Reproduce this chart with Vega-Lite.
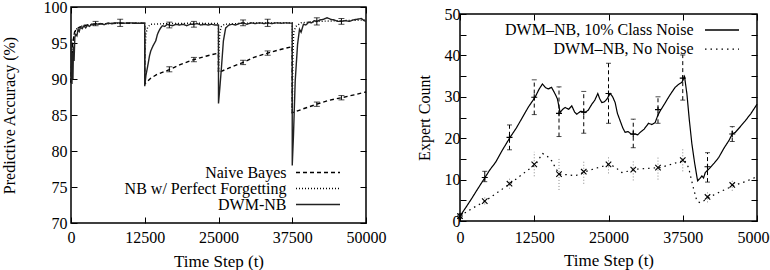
{
  "$schema": "https://vega.github.io/schema/vega-lite/v6.json",
  "background": "white",
  "padding": {"left": 0, "top": -2, "right": 0, "bottom": 0},
  "spacing": 28,
  "resolve": {"scale": {"color": "independent", "strokeDash": "independent"}, "legend": {"color": "independent", "strokeDash": "independent"}},
  "config": {
    "font": "Liberation Serif",
    "view": {"stroke": "black", "strokeWidth": 1.5},
    "axis": {
      "labelFont": "Liberation Serif", "labelFontSize": 16, "labelColor": "black",
      "titleFont": "Liberation Serif", "titleFontWeight": "normal", "titleColor": "black",
      "domain": false, "grid": false, "tickColor": "black", "tickSize": -6, "tickWidth": 1,
      "labelFlush": false, "labelOverlap": false, "format": "d"
    }
  },
  "datasets": {
    "acc": [
      {"s": "Naive Bayes", "t": 0, "v": 89.5}, {"s": "Naive Bayes", "t": 150, "v": 93}, {"s": "Naive Bayes", "t": 300, "v": 95}, {"s": "Naive Bayes", "t": 600, "v": 96.5}, {"s": "Naive Bayes", "t": 1000, "v": 97}, {"s": "Naive Bayes", "t": 2000, "v": 97.4}, {"s": "Naive Bayes", "t": 4167, "v": 97.65}, {"s": "Naive Bayes", "t": 8333, "v": 97.75}, {"s": "Naive Bayes", "t": 12490, "v": 97.75},
      {"s": "Naive Bayes", "t": 12500, "v": 89.3}, {"s": "Naive Bayes", "t": 13500, "v": 90.1}, {"s": "Naive Bayes", "t": 14500, "v": 90.6}, {"s": "Naive Bayes", "t": 16667, "v": 91.3}, {"s": "Naive Bayes", "t": 18500, "v": 92.0}, {"s": "Naive Bayes", "t": 20833, "v": 92.7}, {"s": "Naive Bayes", "t": 23000, "v": 93.2}, {"s": "Naive Bayes", "t": 24990, "v": 93.6},
      {"s": "Naive Bayes", "t": 25000, "v": 90.9}, {"s": "Naive Bayes", "t": 27000, "v": 91.6}, {"s": "Naive Bayes", "t": 29167, "v": 92.3}, {"s": "Naive Bayes", "t": 31000, "v": 93.0}, {"s": "Naive Bayes", "t": 33333, "v": 93.6}, {"s": "Naive Bayes", "t": 35500, "v": 94.1}, {"s": "Naive Bayes", "t": 37490, "v": 94.5},
      {"s": "Naive Bayes", "t": 37500, "v": 85.3}, {"s": "Naive Bayes", "t": 39500, "v": 85.9}, {"s": "Naive Bayes", "t": 41667, "v": 86.5}, {"s": "Naive Bayes", "t": 43500, "v": 87.0}, {"s": "Naive Bayes", "t": 45833, "v": 87.4}, {"s": "Naive Bayes", "t": 48000, "v": 87.8}, {"s": "Naive Bayes", "t": 50000, "v": 88.2},

      {"s": "NB w/ Perfect Forgetting", "t": 0, "v": 89.5}, {"s": "NB w/ Perfect Forgetting", "t": 150, "v": 93}, {"s": "NB w/ Perfect Forgetting", "t": 300, "v": 95}, {"s": "NB w/ Perfect Forgetting", "t": 600, "v": 96.5}, {"s": "NB w/ Perfect Forgetting", "t": 1000, "v": 97}, {"s": "NB w/ Perfect Forgetting", "t": 2000, "v": 97.4}, {"s": "NB w/ Perfect Forgetting", "t": 4167, "v": 97.65}, {"s": "NB w/ Perfect Forgetting", "t": 8333, "v": 97.75}, {"s": "NB w/ Perfect Forgetting", "t": 12490, "v": 97.75},
      {"s": "NB w/ Perfect Forgetting", "t": 12500, "v": 89.3}, {"s": "NB w/ Perfect Forgetting", "t": 12600, "v": 94.5}, {"s": "NB w/ Perfect Forgetting", "t": 12700, "v": 96.3}, {"s": "NB w/ Perfect Forgetting", "t": 13000, "v": 97.2}, {"s": "NB w/ Perfect Forgetting", "t": 13500, "v": 97.6}, {"s": "NB w/ Perfect Forgetting", "t": 16667, "v": 97.7}, {"s": "NB w/ Perfect Forgetting", "t": 20833, "v": 97.75}, {"s": "NB w/ Perfect Forgetting", "t": 24990, "v": 97.7},
      {"s": "NB w/ Perfect Forgetting", "t": 25000, "v": 90.9}, {"s": "NB w/ Perfect Forgetting", "t": 25100, "v": 95}, {"s": "NB w/ Perfect Forgetting", "t": 25250, "v": 96.6}, {"s": "NB w/ Perfect Forgetting", "t": 25500, "v": 97.3}, {"s": "NB w/ Perfect Forgetting", "t": 26000, "v": 97.6}, {"s": "NB w/ Perfect Forgetting", "t": 29167, "v": 97.75}, {"s": "NB w/ Perfect Forgetting", "t": 33333, "v": 97.8}, {"s": "NB w/ Perfect Forgetting", "t": 37490, "v": 97.8},
      {"s": "NB w/ Perfect Forgetting", "t": 37500, "v": 85.3}, {"s": "NB w/ Perfect Forgetting", "t": 37600, "v": 93}, {"s": "NB w/ Perfect Forgetting", "t": 37750, "v": 96.5}, {"s": "NB w/ Perfect Forgetting", "t": 38100, "v": 97.3}, {"s": "NB w/ Perfect Forgetting", "t": 39000, "v": 97.8}, {"s": "NB w/ Perfect Forgetting", "t": 41667, "v": 98.0}, {"s": "NB w/ Perfect Forgetting", "t": 45833, "v": 98.1}, {"s": "NB w/ Perfect Forgetting", "t": 50000, "v": 98.2},

      {"s": "DWM-NB", "t": 0, "v": 95.5}, {"s": "DWM-NB", "t": 80, "v": 91}, {"s": "DWM-NB", "t": 160, "v": 89.3}, {"s": "DWM-NB", "t": 250, "v": 93.5}, {"s": "DWM-NB", "t": 330, "v": 90}, {"s": "DWM-NB", "t": 420, "v": 94.5}, {"s": "DWM-NB", "t": 520, "v": 92.5}, {"s": "DWM-NB", "t": 650, "v": 95.8}, {"s": "DWM-NB", "t": 800, "v": 96.2}, {"s": "DWM-NB", "t": 1000, "v": 96.0}, {"s": "DWM-NB", "t": 1200, "v": 96.9}, {"s": "DWM-NB", "t": 1400, "v": 96.6}, {"s": "DWM-NB", "t": 1600, "v": 97.2}, {"s": "DWM-NB", "t": 1900, "v": 97.0}, {"s": "DWM-NB", "t": 2200, "v": 97.4}, {"s": "DWM-NB", "t": 2500, "v": 97.1}, {"s": "DWM-NB", "t": 2800, "v": 97.5}, {"s": "DWM-NB", "t": 3100, "v": 97.3}, {"s": "DWM-NB", "t": 3500, "v": 97.6}, {"s": "DWM-NB", "t": 3800, "v": 97.5}, {"s": "DWM-NB", "t": 4167, "v": 97.7}, {"s": "DWM-NB", "t": 4600, "v": 97.6}, {"s": "DWM-NB", "t": 5000, "v": 97.7}, {"s": "DWM-NB", "t": 5600, "v": 97.55}, {"s": "DWM-NB", "t": 6200, "v": 97.75}, {"s": "DWM-NB", "t": 7000, "v": 97.7}, {"s": "DWM-NB", "t": 7600, "v": 97.8}, {"s": "DWM-NB", "t": 8333, "v": 97.8}, {"s": "DWM-NB", "t": 9000, "v": 97.75}, {"s": "DWM-NB", "t": 10000, "v": 97.8}, {"s": "DWM-NB", "t": 11000, "v": 97.75}, {"s": "DWM-NB", "t": 12490, "v": 97.75},
      {"s": "DWM-NB", "t": 12500, "v": 89.0}, {"s": "DWM-NB", "t": 12700, "v": 90.5}, {"s": "DWM-NB", "t": 12960, "v": 91.6}, {"s": "DWM-NB", "t": 13300, "v": 93.2}, {"s": "DWM-NB", "t": 13520, "v": 93.9}, {"s": "DWM-NB", "t": 13900, "v": 94.6}, {"s": "DWM-NB", "t": 14365, "v": 95.3}, {"s": "DWM-NB", "t": 14650, "v": 96.2}, {"s": "DWM-NB", "t": 14920, "v": 96.7}, {"s": "DWM-NB", "t": 15200, "v": 97.1}, {"s": "DWM-NB", "t": 15490, "v": 97.4}, {"s": "DWM-NB", "t": 15900, "v": 97.3}, {"s": "DWM-NB", "t": 16300, "v": 97.6}, {"s": "DWM-NB", "t": 16667, "v": 97.5}, {"s": "DWM-NB", "t": 17200, "v": 97.4}, {"s": "DWM-NB", "t": 17800, "v": 97.6}, {"s": "DWM-NB", "t": 18400, "v": 97.5}, {"s": "DWM-NB", "t": 19000, "v": 97.6}, {"s": "DWM-NB", "t": 19600, "v": 97.4}, {"s": "DWM-NB", "t": 20200, "v": 97.6}, {"s": "DWM-NB", "t": 20833, "v": 97.6}, {"s": "DWM-NB", "t": 21400, "v": 97.7}, {"s": "DWM-NB", "t": 22000, "v": 97.5}, {"s": "DWM-NB", "t": 22600, "v": 97.6}, {"s": "DWM-NB", "t": 23200, "v": 97.5}, {"s": "DWM-NB", "t": 23800, "v": 97.6}, {"s": "DWM-NB", "t": 24400, "v": 97.5}, {"s": "DWM-NB", "t": 24990, "v": 97.5},
      {"s": "DWM-NB", "t": 25000, "v": 86.6}, {"s": "DWM-NB", "t": 25200, "v": 88.5}, {"s": "DWM-NB", "t": 25500, "v": 91.6}, {"s": "DWM-NB", "t": 25830, "v": 95.3}, {"s": "DWM-NB", "t": 26220, "v": 97.1}, {"s": "DWM-NB", "t": 26780, "v": 97.5}, {"s": "DWM-NB", "t": 27300, "v": 97.6}, {"s": "DWM-NB", "t": 27900, "v": 97.5}, {"s": "DWM-NB", "t": 28500, "v": 97.7}, {"s": "DWM-NB", "t": 29167, "v": 97.8}, {"s": "DWM-NB", "t": 29800, "v": 97.6}, {"s": "DWM-NB", "t": 30500, "v": 97.8}, {"s": "DWM-NB", "t": 31200, "v": 97.7}, {"s": "DWM-NB", "t": 32000, "v": 97.8}, {"s": "DWM-NB", "t": 32700, "v": 97.7}, {"s": "DWM-NB", "t": 33333, "v": 97.8}, {"s": "DWM-NB", "t": 34000, "v": 97.7}, {"s": "DWM-NB", "t": 34800, "v": 97.8}, {"s": "DWM-NB", "t": 35600, "v": 97.75}, {"s": "DWM-NB", "t": 36400, "v": 97.8}, {"s": "DWM-NB", "t": 37490, "v": 97.75},
      {"s": "DWM-NB", "t": 37500, "v": 78.0}, {"s": "DWM-NB", "t": 37700, "v": 82}, {"s": "DWM-NB", "t": 38000, "v": 89.7}, {"s": "DWM-NB", "t": 38400, "v": 94.8}, {"s": "DWM-NB", "t": 38730, "v": 96.9}, {"s": "DWM-NB", "t": 39000, "v": 96.5}, {"s": "DWM-NB", "t": 39400, "v": 97.6}, {"s": "DWM-NB", "t": 39800, "v": 97.5}, {"s": "DWM-NB", "t": 40300, "v": 97.9}, {"s": "DWM-NB", "t": 40800, "v": 97.8}, {"s": "DWM-NB", "t": 41200, "v": 98.1}, {"s": "DWM-NB", "t": 41667, "v": 98.0}, {"s": "DWM-NB", "t": 42200, "v": 98.2}, {"s": "DWM-NB", "t": 42800, "v": 98.3}, {"s": "DWM-NB", "t": 43400, "v": 98.5}, {"s": "DWM-NB", "t": 44000, "v": 98.3}, {"s": "DWM-NB", "t": 44600, "v": 98.2}, {"s": "DWM-NB", "t": 45200, "v": 98.0}, {"s": "DWM-NB", "t": 45833, "v": 98.0}, {"s": "DWM-NB", "t": 46500, "v": 98.1}, {"s": "DWM-NB", "t": 47200, "v": 98.0}, {"s": "DWM-NB", "t": 47800, "v": 98.2}, {"s": "DWM-NB", "t": 48500, "v": 98.3}, {"s": "DWM-NB", "t": 49200, "v": 98.4}, {"s": "DWM-NB", "t": 49700, "v": 98.1}, {"s": "DWM-NB", "t": 50000, "v": 98.0}
    ],
    "accbars": [
      {"s": "DWM-NB", "t": 4167, "v": 97.7, "lo": 97.4, "hi": 98.0},
      {"s": "DWM-NB", "t": 8333, "v": 97.8, "lo": 97.3, "hi": 98.3},
      {"s": "DWM-NB", "t": 16667, "v": 97.5, "lo": 97.1, "hi": 97.9},
      {"s": "DWM-NB", "t": 20833, "v": 97.6, "lo": 97.2, "hi": 98.0},
      {"s": "DWM-NB", "t": 29167, "v": 97.8, "lo": 97.4, "hi": 98.2},
      {"s": "DWM-NB", "t": 33333, "v": 97.8, "lo": 97.3, "hi": 98.3},
      {"s": "DWM-NB", "t": 41667, "v": 98.0, "lo": 97.5, "hi": 98.5},
      {"s": "DWM-NB", "t": 45833, "v": 98.0, "lo": 97.6, "hi": 98.4},
      {"s": "Naive Bayes", "t": 16667, "v": 91.3, "lo": 91.0, "hi": 91.7},
      {"s": "Naive Bayes", "t": 20833, "v": 92.7, "lo": 92.4, "hi": 93.0},
      {"s": "Naive Bayes", "t": 29167, "v": 92.3, "lo": 92.0, "hi": 92.6},
      {"s": "Naive Bayes", "t": 33333, "v": 93.6, "lo": 93.3, "hi": 93.9},
      {"s": "Naive Bayes", "t": 41667, "v": 86.5, "lo": 86.2, "hi": 86.8},
      {"s": "Naive Bayes", "t": 45833, "v": 87.4, "lo": 87.1, "hi": 87.7}
    ],
    "exp": [
      {"s": "DWM–NB, 10% Class Noise", "t": 0, "v": 1.2}, {"s": "DWM–NB, 10% Class Noise", "t": 1000, "v": 3.3}, {"s": "DWM–NB, 10% Class Noise", "t": 2000, "v": 5.5}, {"s": "DWM–NB, 10% Class Noise", "t": 3000, "v": 7.8}, {"s": "DWM–NB, 10% Class Noise", "t": 4210, "v": 10.5}, {"s": "DWM–NB, 10% Class Noise", "t": 5000, "v": 12.3}, {"s": "DWM–NB, 10% Class Noise", "t": 6000, "v": 14.2}, {"s": "DWM–NB, 10% Class Noise", "t": 7000, "v": 16.8}, {"s": "DWM–NB, 10% Class Noise", "t": 8425, "v": 20.2}, {"s": "DWM–NB, 10% Class Noise", "t": 9500, "v": 22.5}, {"s": "DWM–NB, 10% Class Noise", "t": 10500, "v": 25}, {"s": "DWM–NB, 10% Class Noise", "t": 11500, "v": 27.5}, {"s": "DWM–NB, 10% Class Noise", "t": 12640, "v": 29.9}, {"s": "DWM–NB, 10% Class Noise", "t": 13300, "v": 31.8}, {"s": "DWM–NB, 10% Class Noise", "t": 13880, "v": 33.1}, {"s": "DWM–NB, 10% Class Noise", "t": 14400, "v": 32.2}, {"s": "DWM–NB, 10% Class Noise", "t": 14890, "v": 31.9}, {"s": "DWM–NB, 10% Class Noise", "t": 15400, "v": 32.3}, {"s": "DWM–NB, 10% Class Noise", "t": 16010, "v": 30.7}, {"s": "DWM–NB, 10% Class Noise", "t": 16400, "v": 29.5}, {"s": "DWM–NB, 10% Class Noise", "t": 16850, "v": 26.2}, {"s": "DWM–NB, 10% Class Noise", "t": 17300, "v": 27.0}, {"s": "DWM–NB, 10% Class Noise", "t": 17700, "v": 27.4}, {"s": "DWM–NB, 10% Class Noise", "t": 18300, "v": 27.0}, {"s": "DWM–NB, 10% Class Noise", "t": 18820, "v": 27.8}, {"s": "DWM–NB, 10% Class Noise", "t": 19300, "v": 26.3}, {"s": "DWM–NB, 10% Class Noise", "t": 19660, "v": 25.8}, {"s": "DWM–NB, 10% Class Noise", "t": 20300, "v": 26.5}, {"s": "DWM–NB, 10% Class Noise", "t": 21060, "v": 26.2}, {"s": "DWM–NB, 10% Class Noise", "t": 21600, "v": 26.8}, {"s": "DWM–NB, 10% Class Noise", "t": 22190, "v": 28.2}, {"s": "DWM–NB, 10% Class Noise", "t": 22700, "v": 29.2}, {"s": "DWM–NB, 10% Class Noise", "t": 23200, "v": 30.8}, {"s": "DWM–NB, 10% Class Noise", "t": 23500, "v": 29.6}, {"s": "DWM–NB, 10% Class Noise", "t": 23870, "v": 28.6}, {"s": "DWM–NB, 10% Class Noise", "t": 24300, "v": 28.8}, {"s": "DWM–NB, 10% Class Noise", "t": 24710, "v": 29.4}, {"s": "DWM–NB, 10% Class Noise", "t": 25280, "v": 30.8}, {"s": "DWM–NB, 10% Class Noise", "t": 25700, "v": 30.0}, {"s": "DWM–NB, 10% Class Noise", "t": 26120, "v": 28.6}, {"s": "DWM–NB, 10% Class Noise", "t": 26500, "v": 26.0}, {"s": "DWM–NB, 10% Class Noise", "t": 26960, "v": 24.2}, {"s": "DWM–NB, 10% Class Noise", "t": 27400, "v": 22.5}, {"s": "DWM–NB, 10% Class Noise", "t": 27800, "v": 21.4}, {"s": "DWM–NB, 10% Class Noise", "t": 28300, "v": 21.6}, {"s": "DWM–NB, 10% Class Noise", "t": 28800, "v": 21.0}, {"s": "DWM–NB, 10% Class Noise", "t": 29490, "v": 21.0}, {"s": "DWM–NB, 10% Class Noise", "t": 29900, "v": 20.8}, {"s": "DWM–NB, 10% Class Noise", "t": 30330, "v": 21.4}, {"s": "DWM–NB, 10% Class Noise", "t": 31000, "v": 22.2}, {"s": "DWM–NB, 10% Class Noise", "t": 31740, "v": 23.6}, {"s": "DWM–NB, 10% Class Noise", "t": 32300, "v": 23.3}, {"s": "DWM–NB, 10% Class Noise", "t": 32860, "v": 23.8}, {"s": "DWM–NB, 10% Class Noise", "t": 33300, "v": 25.5}, {"s": "DWM–NB, 10% Class Noise", "t": 33700, "v": 26.6}, {"s": "DWM–NB, 10% Class Noise", "t": 34400, "v": 28.2}, {"s": "DWM–NB, 10% Class Noise", "t": 35110, "v": 29.9}, {"s": "DWM–NB, 10% Class Noise", "t": 35700, "v": 31.2}, {"s": "DWM–NB, 10% Class Noise", "t": 36230, "v": 32.3}, {"s": "DWM–NB, 10% Class Noise", "t": 36800, "v": 33.0}, {"s": "DWM–NB, 10% Class Noise", "t": 37350, "v": 33.5}, {"s": "DWM–NB, 10% Class Noise", "t": 37800, "v": 34.9}, {"s": "DWM–NB, 10% Class Noise", "t": 38200, "v": 30.7}, {"s": "DWM–NB, 10% Class Noise", "t": 38600, "v": 24.5}, {"s": "DWM–NB, 10% Class Noise", "t": 39040, "v": 18.6}, {"s": "DWM–NB, 10% Class Noise", "t": 39500, "v": 14}, {"s": "DWM–NB, 10% Class Noise", "t": 40000, "v": 9.7}, {"s": "DWM–NB, 10% Class Noise", "t": 40400, "v": 10.3}, {"s": "DWM–NB, 10% Class Noise", "t": 40730, "v": 10.9}, {"s": "DWM–NB, 10% Class Noise", "t": 41000, "v": 10.4}, {"s": "DWM–NB, 10% Class Noise", "t": 41290, "v": 11.7}, {"s": "DWM–NB, 10% Class Noise", "t": 42130, "v": 12.9}, {"s": "DWM–NB, 10% Class Noise", "t": 42800, "v": 14.0}, {"s": "DWM–NB, 10% Class Noise", "t": 43540, "v": 15.3}, {"s": "DWM–NB, 10% Class Noise", "t": 44400, "v": 17.5}, {"s": "DWM–NB, 10% Class Noise", "t": 45300, "v": 19.5}, {"s": "DWM–NB, 10% Class Noise", "t": 45833, "v": 21.0}, {"s": "DWM–NB, 10% Class Noise", "t": 46340, "v": 21.4}, {"s": "DWM–NB, 10% Class Noise", "t": 47200, "v": 22.8}, {"s": "DWM–NB, 10% Class Noise", "t": 48020, "v": 24.2}, {"s": "DWM–NB, 10% Class Noise", "t": 49000, "v": 26.0}, {"s": "DWM–NB, 10% Class Noise", "t": 49820, "v": 27.8}, {"s": "DWM–NB, 10% Class Noise", "t": 50000, "v": 28.2},
      {"s": "DWM–NB, No Noise", "t": 0, "v": 1.2}, {"s": "DWM–NB, No Noise", "t": 2000, "v": 3.0}, {"s": "DWM–NB, No Noise", "t": 4210, "v": 4.8}, {"s": "DWM–NB, No Noise", "t": 6300, "v": 6.9}, {"s": "DWM–NB, No Noise", "t": 8425, "v": 9.0}, {"s": "DWM–NB, No Noise", "t": 10500, "v": 11.3}, {"s": "DWM–NB, No Noise", "t": 12750, "v": 13.7}, {"s": "DWM–NB, No Noise", "t": 13880, "v": 16.3}, {"s": "DWM–NB, No Noise", "t": 14600, "v": 15.8}, {"s": "DWM–NB, No Noise", "t": 15450, "v": 14.5}, {"s": "DWM–NB, No Noise", "t": 16200, "v": 12.5}, {"s": "DWM–NB, No Noise", "t": 16850, "v": 11.3}, {"s": "DWM–NB, No Noise", "t": 18000, "v": 11.2}, {"s": "DWM–NB, No Noise", "t": 19380, "v": 10.9}, {"s": "DWM–NB, No Noise", "t": 21060, "v": 11.9}, {"s": "DWM–NB, No Noise", "t": 23000, "v": 12.8}, {"s": "DWM–NB, No Noise", "t": 25280, "v": 13.7}, {"s": "DWM–NB, No Noise", "t": 26300, "v": 12.8}, {"s": "DWM–NB, No Noise", "t": 27250, "v": 11.7}, {"s": "DWM–NB, No Noise", "t": 28500, "v": 12.1}, {"s": "DWM–NB, No Noise", "t": 29490, "v": 12.5}, {"s": "DWM–NB, No Noise", "t": 31500, "v": 12.7}, {"s": "DWM–NB, No Noise", "t": 33700, "v": 12.9}, {"s": "DWM–NB, No Noise", "t": 35800, "v": 13.8}, {"s": "DWM–NB, No Noise", "t": 37800, "v": 14.7}, {"s": "DWM–NB, No Noise", "t": 38480, "v": 12.9}, {"s": "DWM–NB, No Noise", "t": 39200, "v": 8.5}, {"s": "DWM–NB, No Noise", "t": 39880, "v": 4.8}, {"s": "DWM–NB, No Noise", "t": 40440, "v": 4.4}, {"s": "DWM–NB, No Noise", "t": 41200, "v": 5.0}, {"s": "DWM–NB, No Noise", "t": 42020, "v": 5.8}, {"s": "DWM–NB, No Noise", "t": 44000, "v": 7.2}, {"s": "DWM–NB, No Noise", "t": 46340, "v": 8.7}, {"s": "DWM–NB, No Noise", "t": 48200, "v": 9.6}, {"s": "DWM–NB, No Noise", "t": 50000, "v": 10.7}
    ],
    "expbars": [
      {"s": "DWM–NB, 10% Class Noise", "t": 0, "v": 1.2, "lo": 0.7, "hi": 1.7},
      {"s": "DWM–NB, 10% Class Noise", "t": 4167, "v": 10.5, "lo": 9.5, "hi": 12.0},
      {"s": "DWM–NB, 10% Class Noise", "t": 8333, "v": 20.2, "lo": 17.2, "hi": 23.2},
      {"s": "DWM–NB, 10% Class Noise", "t": 12500, "v": 29.9, "lo": 25.7, "hi": 34.1},
      {"s": "DWM–NB, 10% Class Noise", "t": 16667, "v": 26.0, "lo": 20.4, "hi": 32.4},
      {"s": "DWM–NB, 10% Class Noise", "t": 20833, "v": 26.3, "lo": 21.2, "hi": 31.3},
      {"s": "DWM–NB, 10% Class Noise", "t": 25000, "v": 30.8, "lo": 23.6, "hi": 38.1},
      {"s": "DWM–NB, 10% Class Noise", "t": 29167, "v": 21.0, "lo": 17.7, "hi": 24.6},
      {"s": "DWM–NB, 10% Class Noise", "t": 33333, "v": 26.9, "lo": 23.6, "hi": 30.0},
      {"s": "DWM–NB, 10% Class Noise", "t": 37500, "v": 34.5, "lo": 29.2, "hi": 40.1},
      {"s": "DWM–NB, 10% Class Noise", "t": 41667, "v": 13.1, "lo": 9.4, "hi": 16.5},
      {"s": "DWM–NB, 10% Class Noise", "t": 45833, "v": 21.0, "lo": 19.2, "hi": 22.8},
      {"s": "DWM–NB, No Noise", "t": 0, "v": 1.2, "lo": 0.8, "hi": 1.6},
      {"s": "DWM–NB, No Noise", "t": 4167, "v": 4.8, "lo": 4.0, "hi": 5.8},
      {"s": "DWM–NB, No Noise", "t": 8333, "v": 9.0, "lo": 7.8, "hi": 10.6},
      {"s": "DWM–NB, No Noise", "t": 12500, "v": 13.7, "lo": 10.8, "hi": 16.7},
      {"s": "DWM–NB, No Noise", "t": 16667, "v": 11.3, "lo": 7.5, "hi": 15.0},
      {"s": "DWM–NB, No Noise", "t": 20833, "v": 11.9, "lo": 9.0, "hi": 14.5},
      {"s": "DWM–NB, No Noise", "t": 25000, "v": 13.7, "lo": 11.5, "hi": 15.5},
      {"s": "DWM–NB, No Noise", "t": 29167, "v": 12.4, "lo": 9.8, "hi": 14.8},
      {"s": "DWM–NB, No Noise", "t": 33333, "v": 12.9, "lo": 10.0, "hi": 15.5},
      {"s": "DWM–NB, No Noise", "t": 37500, "v": 14.7, "lo": 12.0, "hi": 17.7},
      {"s": "DWM–NB, No Noise", "t": 41667, "v": 5.8, "lo": 4.5, "hi": 7.3},
      {"s": "DWM–NB, No Noise", "t": 45833, "v": 8.7, "lo": 7.3, "hi": 10.2}
    ]
  },
  "hconcat": [
    {
      "width": 295, "height": 216,
      "resolve": {"axis": {"x": "independent", "y": "independent"}},
      "layer": [
        {
          "data": {"name": "acc"},
          "mark": {"type": "line", "strokeWidth": 1.4, "interpolate": "linear"},
          "encoding": {
            "x": {"field": "t", "type": "quantitative", "scale": {"domain": [0, 50000], "nice": false, "zero": false},
                  "axis": {"values": [0, 12500, 25000, 37500, 50000], "title": "Time Step (t)", "titleFontSize": 17, "labelPadding": 12, "titlePadding": 8.5}},
            "y": {"field": "v", "type": "quantitative", "scale": {"domain": [70, 100], "nice": false, "zero": false},
                  "axis": {"values": [70, 75, 80, 85, 90, 95, 100], "title": "Predictive Accuracy (%)", "titleFontSize": 16, "labelPadding": 10, "titlePadding": 26}},
            "color": {"field": "s", "type": "nominal", "title": null,
                      "scale": {"domain": ["Naive Bayes", "NB w/ Perfect Forgetting", "DWM-NB"], "range": ["black", "black", "#222222"]},
                      "legend": {"orient": "none", "legendX": 24, "legendY": 157.5, "title": null, "symbolType": "stroke", "symbolSize": 1936, "symbolStrokeWidth": 1.5, "labelAlign": "right", "labelFontSize": 16, "labelFont": "Liberation Serif", "labelColor": "black", "symbolOffset": 200, "labelOffset": -54.5, "clipHeight": 16, "rowPadding": -2.5, "padding": 0, "labelLimit": 400,
                                 "encode": {"entries": {"update": {"width": {"value": 260}}}}}},
            "strokeDash": {"field": "s", "type": "nominal", "title": null,
                      "scale": {"domain": ["Naive Bayes", "NB w/ Perfect Forgetting", "DWM-NB"], "range": [[4, 3], [1, 2], [1, 0]]},
                      "legend": {"orient": "none", "legendX": 24, "legendY": 157.5, "title": null, "symbolType": "stroke", "symbolSize": 1936, "symbolStrokeWidth": 1.5, "labelAlign": "right", "labelFontSize": 16, "labelFont": "Liberation Serif", "labelColor": "black", "symbolOffset": 200, "labelOffset": -54.5, "clipHeight": 16, "rowPadding": -2.5, "padding": 0, "labelLimit": 400,
                                 "encode": {"entries": {"update": {"width": {"value": 260}}}}}}
          }
        },
        {
          "data": {"name": "accbars"},
          "mark": {"type": "rule", "color": "black", "strokeWidth": 1},
          "encoding": {
            "x": {"field": "t", "type": "quantitative", "axis": null},
            "y": {"field": "lo", "type": "quantitative", "axis": null},
            "y2": {"field": "hi"}
          }
        },
        {
          "data": {"name": "accbars"},
          "mark": {"type": "tick", "orient": "horizontal", "color": "black", "size": 6, "thickness": 1},
          "encoding": {
            "x": {"field": "t", "type": "quantitative", "axis": null},
            "y": {"field": "lo", "type": "quantitative", "axis": null}
          }
        },
        {
          "data": {"name": "accbars"},
          "mark": {"type": "tick", "orient": "horizontal", "color": "black", "size": 6, "thickness": 1},
          "encoding": {
            "x": {"field": "t", "type": "quantitative", "axis": null},
            "y": {"field": "hi", "type": "quantitative", "axis": null}
          }
        },
        {
          "data": {"name": "accbars"},
          "mark": {"type": "point", "opacity": 0},
          "encoding": {
            "x": {"field": "t", "type": "quantitative", "axis": {"orient": "top", "labels": false, "title": null, "values": [0, 12500, 25000, 37500, 50000]}},
            "y": {"field": "v", "type": "quantitative", "axis": {"orient": "right", "labels": false, "title": null, "values": [70, 75, 80, 85, 90, 95, 100]}}
          }
        }
      ]
    },
    {
      "spacing": -3,
      "resolve": {"scale": {"color": "independent", "strokeDash": "independent"}, "legend": {"color": "independent", "strokeDash": "independent"}},
      "vconcat": [
        {
          "width": 297, "height": 1,
          "view": {"stroke": null},
          "data": {"values": []},
          "mark": {"type": "point", "opacity": 0}
        },
        {
          "width": 297, "height": 207,
          "resolve": {"axis": {"x": "independent", "y": "independent"}},
          "layer": [
            {
              "data": {"name": "expbars"},
              "transform": [{"filter": "datum.s === 'DWM–NB, No Noise'"}],
              "mark": {"type": "rule", "color": "#888888", "strokeWidth": 1, "strokeDash": [1, 2]},
              "encoding": {
                "x": {"field": "t", "type": "quantitative", "axis": null, "scale": {"domain": [0, 50000], "nice": false, "zero": false}},
                "y": {"field": "lo", "type": "quantitative", "axis": null, "scale": {"domain": [0, 50], "nice": false}},
                "y2": {"field": "hi"}
              }
            },
            {
              "data": {"name": "expbars"},
              "transform": [{"filter": "datum.s === 'DWM–NB, 10% Class Noise'"}],
              "mark": {"type": "rule", "color": "black", "strokeWidth": 1, "strokeDash": [4, 3]},
              "encoding": {
                "x": {"field": "t", "type": "quantitative", "axis": null},
                "y": {"field": "lo", "type": "quantitative", "axis": null},
                "y2": {"field": "hi"}
              }
            },
            {
              "data": {"name": "exp"},
              "mark": {"type": "line", "strokeWidth": 1.2},
              "encoding": {
                "x": {"field": "t", "type": "quantitative",
                      "axis": {"values": [0, 12500, 25000, 37500, 50000], "title": "Time Step (t)", "titleFontSize": 17, "labelPadding": 14, "titlePadding": 7.5}},
                "y": {"field": "v", "type": "quantitative",
                      "axis": {"values": [0, 5, 10, 15, 20, 25, 30, 35, 40, 45, 50], "labelExpr": "datum.value % 10 === 0 ? datum.label : ''", "title": "Expert Count", "titleFontSize": 16, "labelPadding": 6, "titlePadding": 12}},
                "color": {"field": "s", "type": "nominal", "title": null,
                          "scale": {"domain": ["DWM–NB, 10% Class Noise", "DWM–NB, No Noise"], "range": ["black", "black"]},
                          "legend": {"orient": "none", "legendX": 24, "legendY": 7, "title": null, "symbolType": "stroke", "symbolSize": 1156, "symbolStrokeWidth": 1.3, "labelAlign": "right", "labelFontSize": 16, "labelFont": "Liberation Serif", "labelColor": "black", "symbolOffset": 220, "labelOffset": -46.5, "clipHeight": 18, "rowPadding": 1.1, "padding": 0, "labelLimit": 400,
                                     "encode": {"entries": {"update": {"width": {"value": 270}}}}}},
                "strokeDash": {"field": "s", "type": "nominal", "title": null,
                          "scale": {"domain": ["DWM–NB, 10% Class Noise", "DWM–NB, No Noise"], "range": [[1, 0], [1.5, 4]]},
                          "legend": {"orient": "none", "legendX": 24, "legendY": 7, "title": null, "symbolType": "stroke", "symbolSize": 1156, "symbolStrokeWidth": 1.3, "labelAlign": "right", "labelFontSize": 16, "labelFont": "Liberation Serif", "labelColor": "black", "symbolOffset": 220, "labelOffset": -46.5, "clipHeight": 18, "rowPadding": 1.1, "padding": 0, "labelLimit": 400,
                                     "encode": {"entries": {"update": {"width": {"value": 270}}}}}}
              }
            },
            {
              "data": {"name": "expbars"},
              "transform": [{"filter": "datum.s === 'DWM–NB, 10% Class Noise'"}],
              "mark": {"type": "tick", "orient": "horizontal", "color": "black", "size": 5, "thickness": 1},
              "encoding": {
                "x": {"field": "t", "type": "quantitative", "axis": null},
                "y": {"field": "hi", "type": "quantitative", "axis": null}
              }
            },
            {
              "data": {"name": "expbars"},
              "transform": [{"filter": "datum.s === 'DWM–NB, 10% Class Noise'"}],
              "mark": {"type": "tick", "orient": "horizontal", "color": "black", "size": 5, "thickness": 1},
              "encoding": {
                "x": {"field": "t", "type": "quantitative", "axis": null},
                "y": {"field": "lo", "type": "quantitative", "axis": null}
              }
            },
            {
              "data": {"name": "expbars"},
              "transform": [{"filter": "datum.s === 'DWM–NB, 10% Class Noise'"}],
              "mark": {"type": "point", "filled": false, "color": "black", "size": 36, "strokeWidth": 1.1, "opacity": 1, "shape": "M-1,0L1,0M0,-1L0,1"},
              "encoding": {
                "x": {"field": "t", "type": "quantitative", "axis": null},
                "y": {"field": "v", "type": "quantitative", "axis": null}
              }
            },
            {
              "data": {"name": "expbars"},
              "transform": [{"filter": "datum.s === 'DWM–NB, No Noise'"}],
              "mark": {"type": "point", "filled": false, "color": "black", "size": 30, "strokeWidth": 1.1, "opacity": 1, "shape": "M-1,-1L1,1M-1,1L1,-1"},
              "encoding": {
                "x": {"field": "t", "type": "quantitative", "axis": {"orient": "top", "labels": false, "title": null, "values": [0, 12500, 25000, 37500, 50000]}},
                "y": {"field": "v", "type": "quantitative", "axis": {"orient": "right", "labels": false, "title": null, "values": [0, 5, 10, 15, 20, 25, 30, 35, 40, 45, 50]}}
              }
            }
          ]
        }
      ]
    }
  ]
}
